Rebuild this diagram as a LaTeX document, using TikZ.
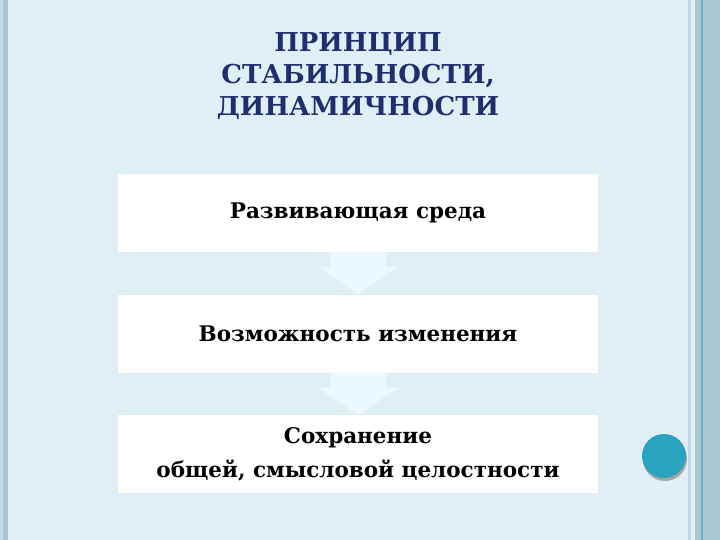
\documentclass[tikz,border=0pt]{standalone}
\usepackage{fontspec}
\setmainfont{DejaVu Serif}
\definecolor{bg}{HTML}{DFEFF5}
\definecolor{stripe}{HTML}{A9C8D4}
\definecolor{teal}{HTML}{5EB3CA}
\definecolor{navy}{HTML}{1F2E6E}
\definecolor{dot}{HTML}{2AA3C0}
\definecolor{arr}{HTML}{ECF9FC}
\tikzset{box/.style={fill=white,draw=none,minimum width=480pt,minimum height=78pt,font=\bfseries\fontsize{21.5}{34}\selectfont,align=center},
 downarr/.style={fill=arr,draw=none}}
\begin{document}
\begin{tikzpicture}[x=1pt,y=-1pt]
\fill[bg] (0,0) rectangle (720,540);
\useasboundingbox (0,0) rectangle (720,540);
\fill[stripe] (3,0) rectangle (8,540);
\fill[stripe!50!bg] (0,0) rectangle (3,540);
\fill[stripe!60!bg] (688,0) rectangle (691,540);
\fill[stripe] (695,0) rectangle (720,540);
\fill[teal] (701,0) rectangle (703,540);
\node[font=\bfseries\fontsize{26}{32}\selectfont,text=navy,align=center] (title) at (358,76) {ПРИНЦИП\\СТАБИЛЬНОСТИ,\\ДИНАМИЧНОСТИ};
\node[box] (b1) at (358,213) {Развивающая среда};
\node[box] (b2) at (358,333.5) {Возможность изменения};
\node[box] (b3) at (358,454) {Сохранение\\общей, смысловой целостности};
\fill[downarr] ([xshift=-28pt]b1.south) -- ([xshift=28pt]b1.south) -- ([xshift=28pt,yshift=-15pt]b1.south) -- ([xshift=40pt,yshift=-15pt]b1.south) -- (b2.north) -- ([xshift=-40pt,yshift=-15pt]b1.south) -- ([xshift=-28pt,yshift=-15pt]b1.south) -- cycle;
\fill[downarr] ([xshift=-28pt]b2.south) -- ([xshift=28pt]b2.south) -- ([xshift=28pt,yshift=-15pt]b2.south) -- ([xshift=40pt,yshift=-15pt]b2.south) -- (b3.north) -- ([xshift=-40pt,yshift=-15pt]b2.south) -- ([xshift=-28pt,yshift=-15pt]b2.south) -- cycle;
\fill[gray!70] (665,459) circle (22);
\node[circle,fill=dot,minimum size=44pt,inner sep=0] (c) at (664,456) {};
\end{tikzpicture}
\end{document}
